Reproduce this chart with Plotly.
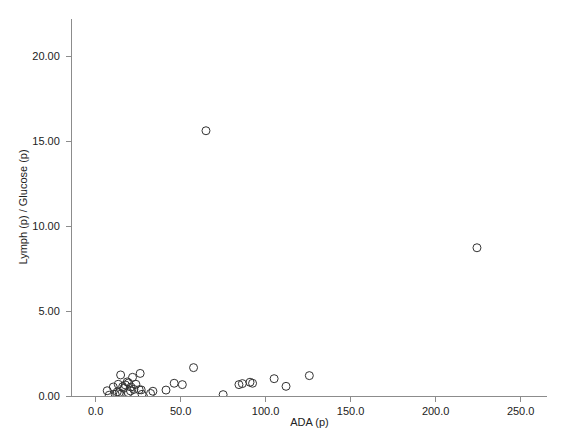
import plotly.graph_objects as go

ada = [14.7, 21.7, 26.2, 57.6, 46.2, 51.0, 41.4, 33.7, 6.8, 10.4, 13.3, 18.6, 19.4,
       23.7, 15.9, 20.8, 22.5, 25.6, 26.8, 12.7, 13.9, 19.2, 11.5, 14.5, 27.3, 8.0,
       20.5, 32.3, 16.5, 17.5, 64.9, 224.3,
       75.0, 84.3, 86.3, 90.8, 92.3, 105.0, 112.0, 125.7]
ratio = [1.24, 1.10, 1.33, 1.67, 0.75, 0.67, 0.35, 0.28, 0.31, 0.53, 0.69, 0.83, 0.77,
         0.69, 0.55, 0.53, 0.39, 0.37, 0.36, 0.24, 0.20, 0.20, 0.10, 0.10, 0.10, 0.05,
         0.30, 0.15, 0.45, 0.65, 15.62, 8.73,
         0.08, 0.67, 0.73, 0.81, 0.75, 1.02, 0.57, 1.20]

x_ticks = [0, 50, 100, 150, 200, 250]
y_ticks = [0, 5, 10, 15, 20]

fig = go.Figure(go.Scatter(
    x=ada, y=ratio, mode="markers",
    marker=dict(symbol="circle-open", size=8, color="#333333", line=dict(width=1)),
    cliponaxis=True,
))

axis_common = dict(
    showgrid=False, zeroline=False, showline=True, linecolor="#8c8c8c", linewidth=1,
    ticks="outside", ticklen=5, tickcolor="#8c8c8c", automargin=False,
    tickfont=dict(family="Liberation Sans, Arial", size=11, color="#222222"),
)

fig.update_layout(
    width=564, height=436,
    margin=dict(l=64, r=25, t=11, b=48),
    paper_bgcolor="white", plot_bgcolor="white",
    showlegend=False,
    font=dict(family="Liberation Sans, Arial", size=11, color="#222222"),
    xaxis=dict(range=[-13.9, 265.5], tickvals=x_ticks, tickformat=".1f",
               title=dict(text="ADA (p)", standoff=2, font=dict(size=11)),
               **axis_common),
    yaxis=dict(range=[0, 22.2], tickvals=y_ticks, tickformat=".2f",
               ticklabelstandoff=4, **axis_common),
    annotations=[dict(
        text="Lymph (p) / Glucose (p)", textangle=-90, showarrow=False,
        xref="paper", yref="paper", x=0, y=0.5, xanchor="center", yanchor="middle",
        xshift=-50, font=dict(family="Liberation Sans, Arial", size=11, color="#222222"),
    )],
)

fig.write_html("out.html")
